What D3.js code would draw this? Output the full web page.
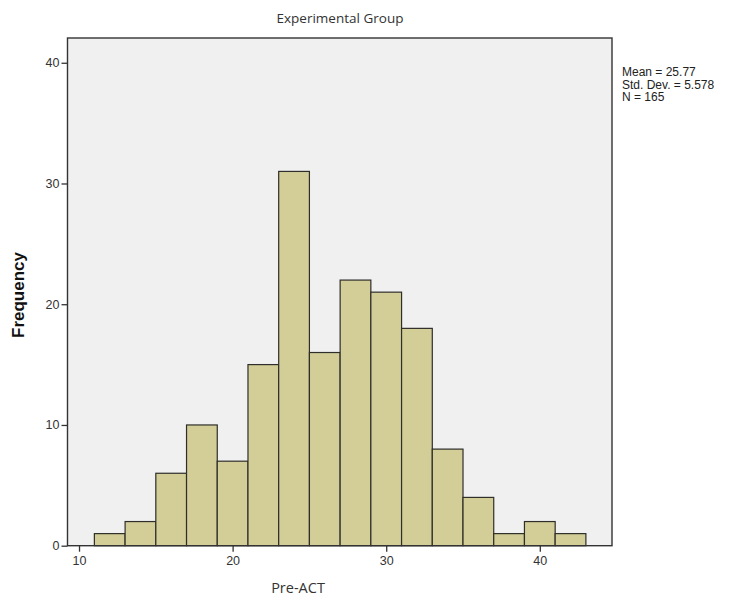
<!DOCTYPE html>
<html>
<head>
<meta charset="utf-8">
<script src="https://cdn.jsdelivr.net/npm/d3@7"></script>
<style>
    body { margin: 0; background: #fff; }
    svg { display: block; }
</style>
</head>
<body>
<svg id="chart" width="733" height="599"></svg>
<script>
// bin edges (Pre-ACT score) and counts per bin
const binStarts = [11, 13, 15, 17, 19, 21, 23, 25, 27, 29, 31, 33, 35, 37, 39, 41]
const binWidth = 2
const counts = [1, 2, 6, 10, 7, 15, 31, 16, 22, 21, 18, 8, 4, 1, 2, 1]
const xTicks = [10, 20, 30, 40]
const yTicks = [0, 10, 20, 30, 40]
const statLines = ['Mean = 25.77', 'Std. Dev. = 5.578', 'N = 165']

const bins = binStarts.map((x0, i) => ({ x0, x1: x0 + binWidth, count: counts[i] }))

function loadChart(id) {
    return d3.select(`#${id}`)
}

function drawFrame(chart, x, y) {
    chart.append('rect')
        .attr('x', x.range()[0])
        .attr('y', y.range()[1])
        .attr('width', x.range()[1] - x.range()[0])
        .attr('height', y.range()[0] - y.range()[1])
        .attr('fill', '#f0f0f0')
}

function drawBars(chart, x, y) {
    chart.selectAll()
        .data(bins)
        .enter()
        .append('rect')
        .attr('class', 'bar')
        .attr('x', ({ x0 }) => x(x0))
        .attr('y', ({ count }) => y(count))
        .attr('width', ({ x0, x1 }) => x(x1) - x(x0))
        .attr('height', ({ count }) => y(0) - y(count))
        .attr('fill', '#d3ce98')
        .attr('stroke', '#2e2e2a')
        .attr('stroke-width', 1.2)
}

function drawAxes(chart, x, y) {
    const [left, right] = x.range()
    const [bottom, top] = y.range()

    chart.append('rect')
        .attr('x', left)
        .attr('y', top)
        .attr('width', right - left)
        .attr('height', bottom - top)
        .attr('fill', 'none')
        .attr('stroke', '#333')
        .attr('stroke-width', 1.4)

    const yAxis = chart.append('g')
        .attr('transform', `translate(${left},0)`)
        .call(d3.axisLeft(y).tickValues(yTicks).tickSize(6).tickPadding(2))
    yAxis.select('.domain').remove()

    const xAxis = chart.append('g')
        .attr('transform', `translate(0,${bottom})`)
        .call(d3.axisBottom(x).tickValues(xTicks).tickSize(6).tickPadding(4))
    xAxis.select('.domain').remove()

    chart.selectAll('.tick line').attr('stroke', '#333').attr('stroke-width', 1.3)
    chart.selectAll('.tick text')
        .attr('fill', '#333')
        .style('font-family', 'Liberation Sans, Arial, sans-serif')
        .style('font-size', '12.5px')
}

function drawLabels(chart, x, y) {
    chart.append('text')
        .attr('x', 340)
        .attr('y', 23)
        .attr('text-anchor', 'middle')
        .attr('fill', '#333')
        .style('font-family', 'Open Sans, sans-serif')
        .style('font-size', '13.5px')
        .text('Experimental Group')

    chart.append('text')
        .attr('x', 298)
        .attr('y', 593)
        .attr('text-anchor', 'middle')
        .attr('fill', '#333')
        .style('font-family', 'Open Sans, sans-serif')
        .style('font-size', '14.5px')
        .text('Pre-ACT')

    chart.append('text')
        .attr('transform', 'translate(24,295) rotate(-90)')
        .attr('text-anchor', 'middle')
        .attr('fill', '#111')
        .style('font-family', 'Liberation Sans, Arial, sans-serif')
        .style('font-size', '17px')
        .style('font-weight', 'bold')
        .text('Frequency')

    chart.append('g')
        .selectAll()
        .data(statLines)
        .enter()
        .append('text')
        .attr('x', 622)
        .attr('y', (d, i) => 76 + i * 12.5)
        .attr('fill', '#222')
        .style('font-family', 'Liberation Sans, Arial, sans-serif')
        .style('font-size', '12px')
        .text(d => d)
}

function main() {
    const chart = loadChart('chart')
    const x = d3.scaleLinear().domain([9.25, 44.7]).range([67.5, 612])
    const y = d3.scaleLinear().domain([0, 42.05]).range([545.7, 38])

    drawFrame(chart, x, y)
    drawBars(chart, x, y)
    drawAxes(chart, x, y)
    drawLabels(chart, x, y)
}

main()
</script>
</body>
</html>
